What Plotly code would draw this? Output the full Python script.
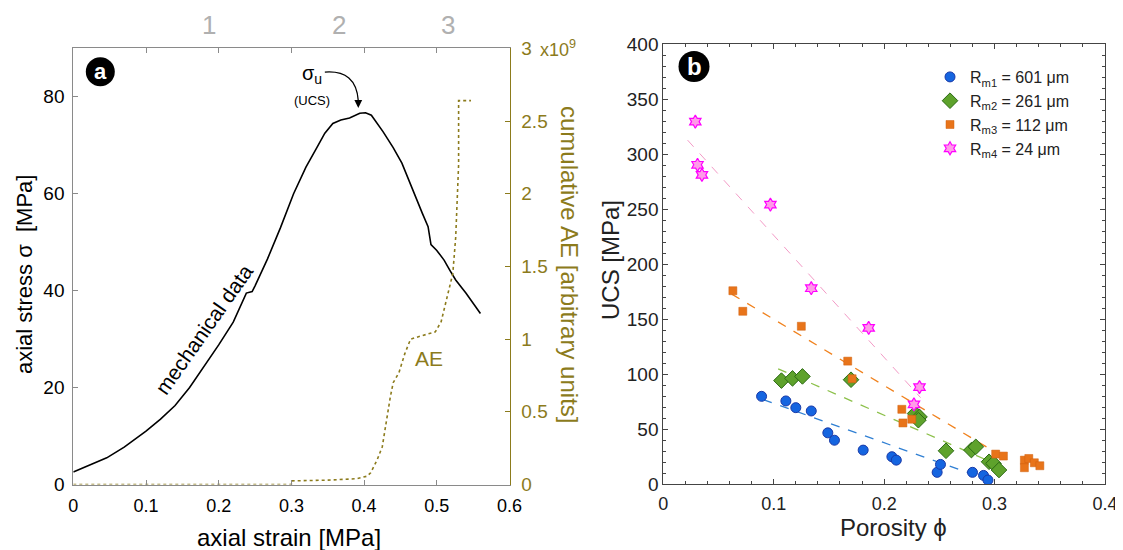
import plotly.graph_objects as go

# ---------------- data: panel a ----------------
strain_mech = [0, 0.02, 0.046, 0.07, 0.1, 0.12, 0.14, 0.16, 0.183, 0.2, 0.22, 0.238, 0.246, 0.25,
               0.267, 0.285, 0.303, 0.32, 0.335, 0.346, 0.357, 0.368, 0.38, 0.394, 0.402, 0.41,
               0.426, 0.44, 0.452, 0.462, 0.473, 0.48, 0.488, 0.49, 0.492, 0.5, 0.51, 0.518,
               0.526, 0.54, 0.557, 0.56]
stress_mech = [2.6, 3.8, 5.5, 7.7, 11, 13.5, 16.3, 20, 25, 28.8, 33.5, 39.5, 39.8, 41,
               46.5, 53, 60, 65.5, 69.5, 72.5, 74.5, 75.2, 75.6, 76.6, 76.7, 76.2,
               72.8, 69.5, 66.3, 62.5, 58.7, 56, 53.2, 51, 49.5, 48.3, 46.3, 44.2,
               42.2, 39.5, 35.7, 35.3]

strain_ae = [0, 0.3, 0.3, 0.35, 0.39, 0.404, 0.409, 0.418, 0.425, 0.43, 0.436, 0.44, 0.448,
             0.456, 0.464, 0.477, 0.498, 0.506, 0.514, 0.522, 0.526, 0.528, 0.530, 0.530, 0.547]
ae_cum = [0, 0, 0.025, 0.03, 0.04, 0.057, 0.08, 0.17, 0.26, 0.42, 0.6, 0.70, 0.77,
          0.9, 1.0, 1.02, 1.05, 1.12, 1.29, 1.45, 1.7, 1.95, 2.2, 2.64, 2.64]

phase_labels = ["1", "2", "3"]
phase_strain = [0.186, 0.365, 0.515]

stress_ticks = [0, 20, 40, 60, 80]
strain_ticks = [0, 0.1, 0.2, 0.3, 0.4, 0.5, 0.6]
strain_ticktext = ["0", "0.1", "0.2", "0.3", "0.4", "0.5", "0.6"]
ae_ticks = [0, 0.5, 1, 1.5, 2, 2.5, 3]
ae_ticktext = ["0", "0.5", "1", "1.5", "2", "2.5", "3"]

# ---------------- data: panel b ----------------
por_m1 = [0.089, 0.111, 0.120, 0.134, 0.149, 0.155, 0.181, 0.207, 0.211, 0.248, 0.251, 0.280, 0.290, 0.294]
ucs_m1 = [79.7, 75.5, 69.4, 66.4, 46.5, 39.8, 30.8, 24.8, 21.7, 10.6, 17.8, 10.6, 7.8, 3.6]

por_m2 = [0.107, 0.117, 0.126, 0.170, 0.228, 0.232, 0.231, 0.256, 0.279, 0.283, 0.295, 0.299, 0.304]
ucs_m2 = [94, 96, 97.8, 94.8, 64, 61, 58, 30.2, 30.8, 33.8, 20.2, 18.7, 12.7]

por_m3 = [0.063, 0.072, 0.125, 0.167, 0.171, 0.216, 0.217, 0.225, 0.301, 0.308, 0.327, 0.331, 0.327, 0.336, 0.341]
ucs_m3 = [175.7, 157, 143.4, 111.7, 95.7, 67.9, 55.5, 58.9, 27.2, 25.4, 21.7, 23.2, 14.8, 19.3, 16.6]

por_m4 = [0.029, 0.031, 0.035, 0.097, 0.134, 0.186, 0.232, 0.227]
ucs_m4 = [329.4, 290.2, 281, 254, 178, 141.9, 88.1, 72.4]

fit_m1_x, fit_m1_y = [0.0905, 0.2988], [76.7, 2.1]
fit_m2_x, fit_m2_y = [0.104, 0.293], [104.7, 21.7]
fit_m3_x, fit_m3_y = [0.062, 0.300], [172.6, 29.3]
fit_m4_x, fit_m4_y = [0.022, 0.233], [312.6, 78.5]

porosity_ticks = [0, 0.1, 0.2, 0.3, 0.4]
porosity_ticktext = ["0", "0.1", "0.2", "0.3", "0.4"]

legend_names = ["R<sub>m1</sub> = 601 μm", "R<sub>m2</sub> = 261 μm",
                "R<sub>m3</sub> = 112 μm", "R<sub>m4</sub> = 24 μm"]

# ---------------- styling ----------------
OFF = 8                      # page body margin of the html page
W, H = 1123 - OFF, 550 - OFF
FONT = "Liberation Sans, Arial, sans-serif"
OLIVE = "#8c7b1c"
AXGRAY = "#8a8a8a"


def px(x):
    return (x - OFF) / W


def py(y):
    return 1 - (y - OFF) / H


def note(text, x, y, size, color="black", angle=0, xref="paper", yref="paper", xanchor="center"):
    return dict(text=text, x=x, y=y, xref=xref, yref=yref, showarrow=False, textangle=angle,
                xanchor=xanchor, yanchor="middle", font=dict(size=size, color=color))


fig = go.Figure()

# panel a
fig.add_trace(go.Scatter(x=strain_mech, y=stress_mech, mode="lines",
                         line=dict(color="black", width=1.6), xaxis="x", yaxis="y",
                         showlegend=False, hoverinfo="skip"))
fig.add_trace(go.Scatter(x=strain_ae, y=ae_cum, mode="lines",
                         line=dict(color=OLIVE, width=1.6, dash="dot"), xaxis="x", yaxis="y2",
                         showlegend=False, hoverinfo="skip"))

# panel b fits
for fx, fy, col, w in [(fit_m1_x, fit_m1_y, "#2f7fd3", 1.3), (fit_m2_x, fit_m2_y, "#8cc04a", 1.3),
                       (fit_m3_x, fit_m3_y, "#f0821e", 1.3), (fit_m4_x, fit_m4_y, "#f39ac6", 1.0)]:
    fig.add_trace(go.Scatter(x=fx, y=fy, mode="lines", line=dict(color=col, width=w, dash="dash"),
                             xaxis="x2", yaxis="y3", showlegend=False, hoverinfo="skip"))

# panel b points
fig.add_trace(go.Scatter(x=por_m1, y=ucs_m1, mode="markers", name=legend_names[0],
                         marker=dict(symbol="circle", size=10, color="#1565e0",
                                     line=dict(color="#1a3aa8", width=1)),
                         xaxis="x2", yaxis="y3"))
fig.add_trace(go.Scatter(x=por_m2, y=ucs_m2, mode="markers", name=legend_names[1],
                         marker=dict(symbol="diamond", size=12, color="#5ea22c",
                                     line=dict(color="#2c6a14", width=1)),
                         xaxis="x2", yaxis="y3"))
fig.add_trace(go.Scatter(x=por_m3, y=ucs_m3, mode="markers", name=legend_names[2],
                         marker=dict(symbol="square", size=8, color="#e8741a",
                                     line=dict(color="#d0600e", width=0.5)),
                         xaxis="x2", yaxis="y3"))
fig.add_trace(go.Scatter(x=por_m4, y=ucs_m4, mode="markers", name=legend_names[3],
                         marker=dict(symbol="hexagram", size=10, color="#ff9be8",
                                     line=dict(color="#ff00ff", width=1.2)),
                         xaxis="x2", yaxis="y3"))

annotations = []
shapes = []

# axis titles panel a
annotations.append(note("axial strain [MPa]", px(289), py(537), 24))
annotations.append(note("axial stress σ  [MPa]", px(24), py(275), 22, angle=-90))
annotations.append(note("cumulative AE [arbitrary units]", px(570), py(264), 24, color=OLIVE, angle=90))
annotations.append(note("x10<sup>9</sup>", px(538), py(48), 18, color=OLIVE, xanchor="left"))

# phase labels
for lab, s in zip(phase_labels, phase_strain):
    annotations.append(note(lab, s, py(25), 26, color="#b0b0b0", xref="x"))

# curve labels
annotations.append(note("mechanical data", 0.180, 31.9, 21, angle=-55, xref="x", yref="y"))
annotations.append(note("AE", 0.4887, 26.0, 21, color=OLIVE, xref="x", yref="y"))
annotations.append(note("σ<sub>u</sub>", px(312), py(74), 20))
annotations.append(note("(UCS)", px(312), py(100), 13))
# arrowhead for sigma_u
annotations.append(dict(text="", x=0.392, y=77.7, xref="x", yref="y", ax=0, ay=-9,
                        showarrow=True, arrowhead=2, arrowsize=1.2, arrowwidth=1.3, arrowcolor="black"))
shapes.append(dict(type="path", xref="x", yref="y",
                   path="M 0.346 85.1 Q 0.389 85.6 0.392 79.2",
                   line=dict(color="black", width=1.3)))

# panel labels
for cx, cy, d, lab, fs in [(100.3, 71.7, 29, "a", 22), (694, 66.5, 31, "b", 24)]:
    shapes.append(dict(type="circle", xref="paper", yref="paper", xsizemode="pixel",
                       ysizemode="pixel", xanchor=px(cx), yanchor=py(cy), layer="below",
                       x0=-d / 2, x1=d / 2, y0=-d / 2, y1=d / 2,
                       fillcolor="black", line=dict(color="black", width=0)))
    annotations.append(note("<b>%s</b>" % lab, px(cx), py(cy), fs, color="white"))

# panel b titles
annotations.append(note("UCS [MPa]", px(611), py(260), 24, color="#222", angle=-90))
annotations.append(note("Porosity ϕ", px(893), py(527), 24, color="#222"))

fig.update_layout(
    width=W, height=H,
    margin=dict(l=0, r=0, t=0, b=0, pad=0, autoexpand=False),
    paper_bgcolor="white", plot_bgcolor="rgba(0,0,0,0)",
    font=dict(family=FONT, color="black"),
    xaxis=dict(domain=[px(73.3), px(509.5)], range=[0, 0.6], tickvals=strain_ticks,
               ticktext=strain_ticktext,
               ticks="inside", ticklen=5, tickcolor=AXGRAY, showline=True, linecolor=AXGRAY,
               linewidth=1, mirror="ticks", showgrid=False, zeroline=False, automargin=False,
               tickfont=dict(size=18, color="black"), ticklabelstandoff=5, anchor="y"),
    yaxis=dict(domain=[py(484.5), py(48.3)], range=[0, 90], tickvals=stress_ticks,
               ticks="inside", ticklen=5, tickcolor=AXGRAY, showline=True, linecolor=AXGRAY,
               linewidth=1, showgrid=False, zeroline=False, automargin=False,
               tickfont=dict(size=19, color="black"), ticklabelstandoff=4, anchor="x"),
    yaxis2=dict(overlaying="y", side="right", anchor="x", range=[0, 3], tickvals=ae_ticks,
                ticktext=ae_ticktext, ticks="inside", ticklen=5, tickcolor=OLIVE, showline=True,
                linecolor=OLIVE, linewidth=1, showgrid=False, zeroline=False, automargin=False,
                tickfont=dict(size=19, color=OLIVE), ticklabelstandoff=7),
    xaxis2=dict(domain=[px(663.3), px(1105)], range=[0, 0.4], tickvals=porosity_ticks,
                ticktext=porosity_ticktext,
                ticks="inside", ticklen=5, tickcolor="#444", showline=True, linecolor="#444",
                linewidth=1, mirror="ticks", showgrid=False, zeroline=False, automargin=False,
                minor=dict(ticks="inside", dtick=0.02, ticklen=3, tickcolor="#444"),
                tickfont=dict(size=18, color="#222"), ticklabelstandoff=3, anchor="y3"),
    yaxis3=dict(domain=[py(484), py(44)], range=[0, 400], dtick=50,
                ticks="inside", ticklen=5, tickcolor="#444", showline=True, linecolor="#444",
                linewidth=1, mirror="ticks", showgrid=False, zeroline=False, automargin=False,
                minor=dict(ticks="inside", dtick=10, ticklen=3, tickcolor="#444"),
                tickfont=dict(size=19, color="#222"), anchor="x2"),
    legend=dict(x=px(930), y=py(60), xanchor="left", yanchor="top", bgcolor="rgba(0,0,0,0)",
                font=dict(size=16, color="#222"), itemwidth=30, tracegroupgap=0),
    annotations=annotations,
    shapes=shapes,
)

fig.write_html("out.html")
